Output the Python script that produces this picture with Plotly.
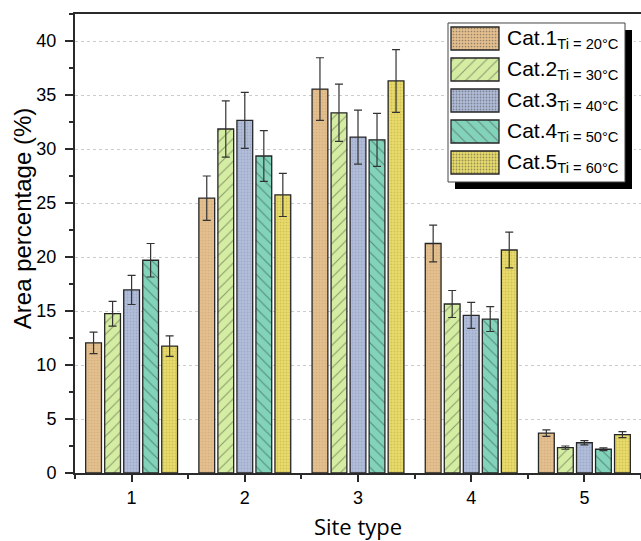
import plotly.graph_objects as go

# ---------------- data ----------------
sites = [1, 2, 3, 4, 5]
tick_labels = ["1", "2", "3", "4", "5"]

cat1 = [12.05, 25.45, 35.55, 21.25, 3.7]
cat2 = [14.75, 31.85, 33.35, 15.65, 2.35]
cat3 = [16.95, 32.65, 31.1, 14.6, 2.8]
cat4 = [19.7, 29.35, 30.85, 14.25, 2.2]
cat5 = [11.75, 25.75, 36.3, 20.65, 3.55]

err1 = [1.0, 2.05, 2.9, 1.7, 0.3]
err2 = [1.15, 2.6, 2.65, 1.25, 0.15]
err3 = [1.35, 2.6, 2.5, 1.2, 0.2]
err4 = [1.55, 2.35, 2.45, 1.15, 0.12]
err5 = [0.95, 2.0, 2.9, 1.65, 0.28]

series_names = ["Cat.1", "Cat.2", "Cat.3", "Cat.4", "Cat.5"]
temps = ["Ti = 20°C", "Ti = 30°C", "Ti = 40°C", "Ti = 50°C", "Ti = 60°C"]

# ---------------- styles ----------------
colors = ["#E3BE8E", "#D5EDA2", "#B2BEDA", "#82D3BA", "#E8DC6C"]
pat_shapes = [".", "/", ".", "\\", "."]
pat_fg = ["#C9A070", "#3F4A33", "#8793B4", "#24463E", "#B9A83E"]
pat_size = [3, 8, 3, 8, 3]
pat_sol = [0.25, 0.14, 0.3, 0.14, 0.3]

values = [cat1, cat2, cat3, cat4, cat5]
errors = [err1, err2, err3, err4, err5]

fig = go.Figure()

for i in range(5):
    fig.add_trace(go.Bar(
        x=sites, y=values[i], name=series_names[i],
        marker=dict(color=colors[i],
                    line=dict(color="#262626", width=1.3),
                    pattern=dict(shape=pat_shapes[i], fillmode="overlay",
                                 fgcolor=pat_fg[i], size=pat_size[i],
                                 solidity=pat_sol[i])),
        error_y=dict(type="data", array=errors[i], visible=True,
                     color="#333333", thickness=1.2, width=4),
        xaxis="x", yaxis="y", showlegend=False,
    ))

# ---------------- custom legend (subplot x2/y2 in pixel-like units) ----------------
row_h = 31
sw_h = 23
rows = [15.5 + row_h * i for i in range(5)]
fig.add_trace(go.Bar(
    y=rows, x=[48] * 5, base=[3] * 5, orientation="h", width=sw_h,
    marker=dict(color=colors,
                line=dict(color="#262626", width=1.3),
                pattern=dict(shape=pat_shapes, fillmode="overlay",
                             fgcolor=pat_fg, size=pat_size, solidity=pat_sol)),
    xaxis="x2", yaxis="y2", showlegend=False, hoverinfo="skip",
))

# shadow + box
fig.add_shape(type="rect", xref="x2", yref="y2", x0=7, x1=184, y0=7, y1=166,
              fillcolor="black", line=dict(width=0), layer="below")
fig.add_shape(type="rect", xref="x2", yref="y2", x0=0, x1=177, y0=0, y1=159,
              fillcolor="white", line=dict(color="#444444", width=1), layer="below")

for i in range(5):
    fig.add_annotation(
        xref="x2", yref="y2", x=57, y=rows[i] + 1, xanchor="left", yanchor="middle",
        text=f"{series_names[i]}<sub>{temps[i]}</sub>", showarrow=False,
        font=dict(family="Arial, Liberation Sans", size=21, color="black"),
    )

# y-axis title as a rotated annotation (placed slightly above plot centre)
fig.add_annotation(
    xref="paper", yref="paper", x=-0.0936, y=0.553, xanchor="center", yanchor="middle",
    text="Area percentage (%)", textangle=-90, showarrow=False,
    font=dict(family="Arial, Liberation Sans", size=24, color="black"),
)

fig.update_layout(
    width=641, height=541,
    margin=dict(l=75, r=0, t=14, b=68),
    paper_bgcolor="white", plot_bgcolor="white",
    barmode="group", bargap=0.16, bargroupgap=0.17,
    showlegend=False,
    font=dict(family="Arial, Liberation Sans", color="black"),
    xaxis=dict(
        range=[0.5, 5.5], tickvals=sites, ticktext=tick_labels,
        showline=True, linecolor="#2a2a2a", linewidth=2, mirror=True,
        ticks="outside", ticklen=7, tickwidth=1.5, tickcolor="#2a2a2a",
        minor=dict(dtick=0.5, tick0=0.5, ticks="outside", ticklen=4,
                   tickwidth=1.5, tickcolor="#2a2a2a", showgrid=False),
        showgrid=False, zeroline=False,
        tickfont=dict(size=18, family="Arial, Liberation Sans"),
        ticklabelstandoff=0,
        title=dict(text="Site type", standoff=14,
                   font=dict(size=22, family="Open Sans")),
    ),
    yaxis=dict(
        range=[0, 42.5], tickvals=[0, 5, 10, 15, 20, 25, 30, 35, 40],
        showline=True, linecolor="#2a2a2a", linewidth=2,
        ticks="outside", ticklen=8, tickwidth=1.5, tickcolor="#2a2a2a",
        minor=dict(dtick=2.5, tick0=0, ticks="outside", ticklen=4,
                   tickwidth=1.5, tickcolor="#2a2a2a", showgrid=False),
        showgrid=True, gridcolor="#cccccc", gridwidth=1, griddash="3px,3px",
        zeroline=False,
        tickfont=dict(size=18, family="Arial, Liberation Sans"),
        ticklabelstandoff=5,
    ),
    xaxis2=dict(domain=[0.65548, 0.98763], range=[-2, 186], visible=False,
                fixedrange=True, anchor="y2"),
    yaxis2=dict(domain=[0.61438, 0.98475], range=[168, -2], visible=False,
                fixedrange=True, anchor="x2"),
)

fig.write_html("out.html")
